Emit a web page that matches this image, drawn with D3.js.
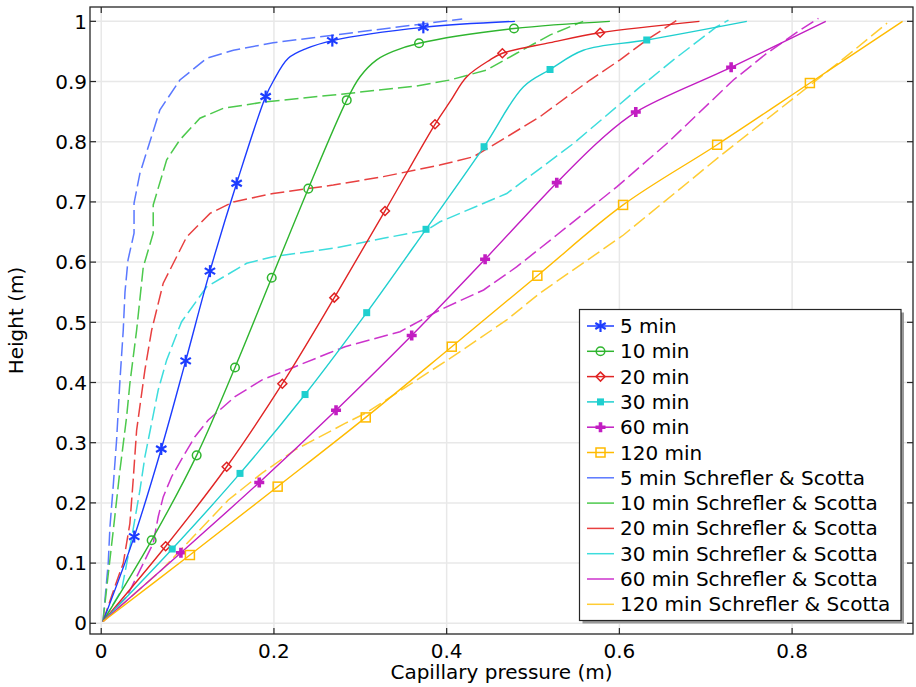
<!DOCTYPE html>
<html>
<head>
<meta charset="utf-8">
<script src="https://cdn.jsdelivr.net/npm/d3@7"></script>
<style>
  body { margin: 0; background: #fff; }
  svg text { font-family: "DejaVu Sans", sans-serif; fill: #000; }
</style>
</head>
<body>
<div id="viz"></div>
<script>
// tempos - series names
var times = ['5 min', '10 min', '20 min', '30 min', '60 min', '120 min'];
var refLabel = ' Schrefler & Scotta';

// simulated curves [capillary pressure, height]
var sim5 = [[0.002,0.003],[0.0382,0.144],[0.0695,0.2895],[0.0978,0.436],[0.1259,0.585],[0.1568,0.731],[0.1904,0.875],[0.199,0.9],[0.2166,0.9385],[0.238,0.955],[0.2676,0.968],[0.373,0.990],[0.479,1.0]];
var sim10 = [[0.002,0.003],[0.0584,0.138],[0.1105,0.279],[0.1549,0.425],[0.1974,0.574],[0.2398,0.722],[0.2843,0.869],[0.2997,0.908],[0.319,0.936],[0.338,0.950],[0.368,0.9635],[0.478,0.988],[0.589,1.0]];
var sim20 = [[0.002,0.003],[0.0746,0.128],[0.1453,0.260],[0.2097,0.398],[0.2699,0.541],[0.3286,0.685],[0.3865,0.829],[0.4039,0.8665],[0.4233,0.908],[0.4503,0.936],[0.4645,0.947],[0.5197,0.9646],[0.5777,0.981],[0.6927,1.0]];
var sim30 = [[0.002,0.003],[0.0822,0.1234],[0.1607,0.249],[0.236,0.380],[0.3074,0.516],[0.3761,0.6545],[0.4433,0.7917],[0.489,0.8914],[0.5197,0.920],[0.5583,0.952],[0.6317,0.969],[0.7476,1.0]];
var sim60 = [[0.002,0.003],[0.0923,0.1173],[0.183,0.234],[0.2719,0.354],[0.3595,0.478],[0.4445,0.6047],[0.5275,0.732],[0.578,0.803],[0.619,0.8493],[0.7294,0.9236],[0.839,1.0]];
var sim120 = [[0.002,0.003],[0.1027,0.1134],[0.2043,0.227],[0.3063,0.342],[0.4059,0.4595],[0.505,0.5774],[0.6043,0.695],[0.7132,0.795],[0.8206,0.8975],[0.9279,1.0]];

// marker points on the simulated curves
var mk5 = [[0.0382,0.144],[0.0695,0.2895],[0.0978,0.436],[0.1259,0.585],[0.1568,0.731],[0.1904,0.875],[0.2676,0.968],[0.373,0.990]];
var mk10 = [[0.0584,0.138],[0.1105,0.279],[0.1549,0.425],[0.1974,0.574],[0.2398,0.722],[0.2843,0.869],[0.368,0.9635],[0.478,0.988]];
var mk20 = [[0.0746,0.128],[0.1453,0.260],[0.2097,0.398],[0.2699,0.541],[0.3286,0.685],[0.3865,0.829],[0.4645,0.947],[0.5777,0.981]];
var mk30 = [[0.0822,0.1234],[0.1607,0.249],[0.236,0.380],[0.3074,0.516],[0.3761,0.6545],[0.4433,0.7917],[0.5197,0.920],[0.6317,0.969]];
var mk60 = [[0.0923,0.1173],[0.183,0.234],[0.2719,0.354],[0.3595,0.478],[0.4445,0.6047],[0.5275,0.732],[0.619,0.8493],[0.7294,0.9236]];
var mk120 = [[0.1027,0.1134],[0.2043,0.227],[0.3063,0.342],[0.4059,0.4595],[0.505,0.5774],[0.6043,0.695],[0.7132,0.795],[0.8206,0.8975]];

// Schrefler & Scotta reference curves (dashed)
var ref5 = [[0.002,0.003],[0.005,0.05],[0.0081,0.0997],[0.0101,0.16],[0.014,0.23],[0.0178,0.3045],[0.0217,0.404],[0.0255,0.487],[0.0275,0.55],[0.031,0.6035],[0.038,0.648],[0.038,0.698],[0.0448,0.7475],[0.068,0.853],[0.0911,0.9025],[0.122,0.9385],[0.153,0.952],[0.199,0.9645],[0.2687,0.977],[0.418,1.004]];
var ref10 = [[0.002,0.003],[0.008,0.08],[0.014,0.155],[0.0217,0.2546],[0.0294,0.343],[0.0332,0.3986],[0.041,0.487],[0.0487,0.592],[0.0602,0.648],[0.0602,0.695],[0.0758,0.77],[0.091,0.803],[0.1143,0.839],[0.1413,0.8555],[0.1916,0.8665],[0.2687,0.8776],[0.365,0.8925],[0.4037,0.9025],[0.446,0.919],[0.481,0.947],[0.52,0.9775],[0.558,1.0]];
var ref20 = [[0.002,0.003],[0.018,0.07],[0.0255,0.0997],[0.0332,0.166],[0.037,0.238],[0.041,0.321],[0.0506,0.421],[0.0584,0.487],[0.0718,0.565],[0.099,0.642],[0.126,0.681],[0.153,0.700],[0.199,0.714],[0.2687,0.728],[0.3267,0.742],[0.392,0.7612],[0.431,0.775],[0.4696,0.808],[0.508,0.8415],[0.566,0.9025],[0.6008,0.936],[0.6317,0.969],[0.668,1.003]];
var ref30 = [[0.002,0.003],[0.0236,0.0553],[0.035,0.14],[0.0448,0.221],[0.0506,0.2767],[0.066,0.3875],[0.0757,0.437],[0.0892,0.487],[0.0931,0.501],[0.1221,0.559],[0.1684,0.598],[0.199,0.609],[0.2687,0.623],[0.3267,0.6395],[0.3769,0.6533],[0.3923,0.667],[0.4696,0.714],[0.5467,0.797],[0.624,0.891],[0.6626,0.936],[0.7128,0.991],[0.7263,1.002]];
var ref60 = [[0.002,0.003],[0.03,0.045],[0.0506,0.105],[0.0602,0.133],[0.066,0.177],[0.0718,0.21],[0.0815,0.2435],[0.097,0.2824],[0.1085,0.31],[0.124,0.3377],[0.1549,0.3764],[0.1858,0.404],[0.2244,0.4262],[0.263,0.4485],[0.2823,0.4595],[0.346,0.4844],[0.392,0.5204],[0.4428,0.5537],[0.481,0.592],[0.5275,0.645],[0.597,0.725],[0.655,0.797],[0.732,0.9025],[0.7708,0.947],[0.8093,0.9855],[0.8305,1.005]];
var ref120 = [[0.002,0.003],[0.07,0.0886],[0.1471,0.2048],[0.1858,0.249],[0.2244,0.288],[0.2823,0.332],[0.3074,0.350],[0.35,0.39],[0.4039,0.44],[0.4696,0.504],[0.5082,0.5487],[0.6047,0.645],[0.7205,0.7807],[0.8209,0.894],[0.87,0.95],[0.91,0.997]];

var xTicks = [0, 0.2, 0.4, 0.6, 0.8];
var yTicks = [0, 0.1, 0.2, 0.3, 0.4, 0.5, 0.6, 0.7, 0.8, 0.9, 1];

var simColors = ['#1c3cff', '#2fb52f', '#e02424', '#1fcfcf', '#c21dc2', '#ffbb00'];
var refColors = ['#5a78ff', '#4cc94c', '#e84040', '#3ddddd', '#cc33cc', '#ffcc33'];
var markerTypes = ['star', 'circle', 'diamond', 'square', 'plus', 'opensquare'];

var sims = [sim5, sim10, sim20, sim30, sim60, sim120];
var marks = [mk5, mk10, mk20, mk30, mk60, mk120];
var refs = [ref5, ref10, ref20, ref30, ref60, ref120];

var W = 916, H = 687;
var pL = 90, pR = 913, pT = 7, pB = 634;

var svg = d3.select('#viz').append('svg')
  .attr('width', W).attr('height', H);

var x = d3.scaleLinear().domain([-0.013, 0.94]).range([pL, pR]);
var y = d3.scaleLinear().domain([-0.0178, 1.0238]).range([pB, pT]);

// grid
svg.append('g').selectAll('line').data(xTicks).enter().append('line')
  .attr('x1', function(d){return x(d);}).attr('x2', function(d){return x(d);})
  .attr('y1', pT).attr('y2', pB)
  .attr('stroke', '#e8e8e8').attr('stroke-width', 1.5);
svg.append('g').selectAll('line').data(yTicks).enter().append('line')
  .attr('y1', function(d){return y(d);}).attr('y2', function(d){return y(d);})
  .attr('x1', pL).attr('x2', pR)
  .attr('stroke', '#e8e8e8').attr('stroke-width', 1.5);

// curves
svg.append('clipPath').attr('id', 'clip').append('rect')
  .attr('x', pL).attr('y', pT).attr('width', pR - pL).attr('height', pB - pT);
var plot = svg.append('g').attr('clip-path', 'url(#clip)');

var dashed = d3.line().x(function(d){return x(d[0]);}).y(function(d){return y(d[1]);});
var smooth = d3.line().x(function(d){return x(d[0]);}).y(function(d){return y(d[1]);})
  .curve(d3.curveCatmullRom.alpha(0.5));

refs.forEach(function(r, i){
  plot.append('path').attr('d', dashed(r))
    .attr('fill', 'none').attr('stroke', refColors[i])
    .attr('stroke-width', 1.5).attr('stroke-dasharray', '14,5');
});
sims.forEach(function(s, i){
  plot.append('path').attr('d', smooth(s))
    .attr('fill', 'none').attr('stroke', simColors[i]).attr('stroke-width', 1.4);
});

function drawMarker(g, type, color, cx, cy) {
  if (type === 'star') {
    [90, 30, -30].forEach(function(a){
      var r = 6, rad = a * Math.PI / 180;
      g.append('line')
        .attr('x1', cx - r*Math.cos(rad)).attr('y1', cy - r*Math.sin(rad))
        .attr('x2', cx + r*Math.cos(rad)).attr('y2', cy + r*Math.sin(rad))
        .attr('stroke', color).attr('stroke-width', 2.2);
    });
  } else if (type === 'circle') {
    g.append('circle').attr('cx', cx).attr('cy', cy).attr('r', 4.3)
      .attr('fill', 'none').attr('stroke', color).attr('stroke-width', 1.5);
  } else if (type === 'diamond') {
    g.append('path').attr('d', 'M' + cx + ',' + (cy-4.5) + 'L' + (cx+4.5) + ',' + cy + 'L' + cx + ',' + (cy+4.5) + 'L' + (cx-4.5) + ',' + cy + 'Z')
      .attr('fill', 'none').attr('stroke', color).attr('stroke-width', 1.5);
  } else if (type === 'square') {
    g.append('rect').attr('x', cx-3.5).attr('y', cy-3.5).attr('width', 7).attr('height', 7)
      .attr('fill', color);
  } else if (type === 'plus') {
    g.append('path').attr('d', 'M' + (cx-5) + ',' + cy + 'H' + (cx+5) + 'M' + cx + ',' + (cy-5) + 'V' + (cy+5))
      .attr('stroke', color).attr('stroke-width', 3.6);
  } else if (type === 'opensquare') {
    g.append('rect').attr('x', cx-4.5).attr('y', cy-4.5).attr('width', 9).attr('height', 9)
      .attr('fill', 'none').attr('stroke', color).attr('stroke-width', 1.5);
  }
}

marks.forEach(function(m, i){
  var g = plot.append('g');
  m.forEach(function(d){ drawMarker(g, markerTypes[i], simColors[i], x(d[0]), y(d[1])); });
});

// frame + inside ticks
svg.append('rect').attr('x', pL).attr('y', pT).attr('width', pR - pL).attr('height', pB - pT)
  .attr('fill', 'none').attr('stroke', '#262626').attr('stroke-width', 1.3);

var tk = svg.append('g').attr('stroke', '#262626').attr('stroke-width', 1.2);
xTicks.forEach(function(d){
  tk.append('line').attr('x1', x(d)).attr('x2', x(d)).attr('y1', pB).attr('y2', pB - 6);
  tk.append('line').attr('x1', x(d)).attr('x2', x(d)).attr('y1', pT).attr('y2', pT + 6);
});
yTicks.forEach(function(d){
  tk.append('line').attr('y1', y(d)).attr('y2', y(d)).attr('x1', pL).attr('x2', pL + 6);
  tk.append('line').attr('y1', y(d)).attr('y2', y(d)).attr('x1', pR).attr('x2', pR - 6);
});

// tick labels
svg.append('g').selectAll('text').data(xTicks).enter().append('text')
  .attr('x', function(d){return x(d);}).attr('y', 658)
  .attr('text-anchor', 'middle').attr('font-size', 20)
  .text(function(d){return d;});
svg.append('g').selectAll('text').data(yTicks).enter().append('text')
  .attr('x', 87).attr('y', function(d){return y(d);}).attr('dy', '0.36em')
  .attr('text-anchor', 'end').attr('font-size', 20)
  .text(function(d){return d;});

// axis titles
svg.append('text').attr('x', (pL + pR) / 2).attr('y', 679)
  .attr('text-anchor', 'middle').attr('font-size', 20)
  .text('Capillary pressure (m)');
svg.append('text').attr('transform', 'translate(23,' + ((pT + pB) / 2) + ') rotate(-90)')
  .attr('text-anchor', 'middle').attr('font-size', 20)
  .text('Height (m)');

// legend
var lx = 579.5, ly = 309.5, lw = 321.5, lh = 311, rowH = 25.3, row0 = 326;
svg.append('rect').attr('x', lx + 3).attr('y', ly + 3).attr('width', lw).attr('height', lh)
  .attr('fill', '#999');
svg.append('rect').attr('x', lx).attr('y', ly).attr('width', lw).attr('height', lh)
  .attr('fill', '#fff').attr('stroke', '#262626').attr('stroke-width', 1.2);

var leg = svg.append('g');
times.forEach(function(t, i){
  var cy = row0 + i * rowH;
  leg.append('line').attr('x1', 587).attr('x2', 614).attr('y1', cy).attr('y2', cy)
    .attr('stroke', simColors[i]).attr('stroke-width', 1.5);
  drawMarker(leg, markerTypes[i], simColors[i], 600.5, cy);
  leg.append('text').attr('x', 620).attr('y', cy + 7).attr('font-size', 20).text(t);
});
times.forEach(function(t, i){
  var cy = row0 + (i + 6) * rowH;
  leg.append('line').attr('x1', 587).attr('x2', 614).attr('y1', cy).attr('y2', cy)
    .attr('stroke', refColors[i]).attr('stroke-width', 1.5);
  leg.append('text').attr('x', 620).attr('y', cy + 7).attr('font-size', 20).text(t + refLabel);
});
</script>
</body>
</html>
